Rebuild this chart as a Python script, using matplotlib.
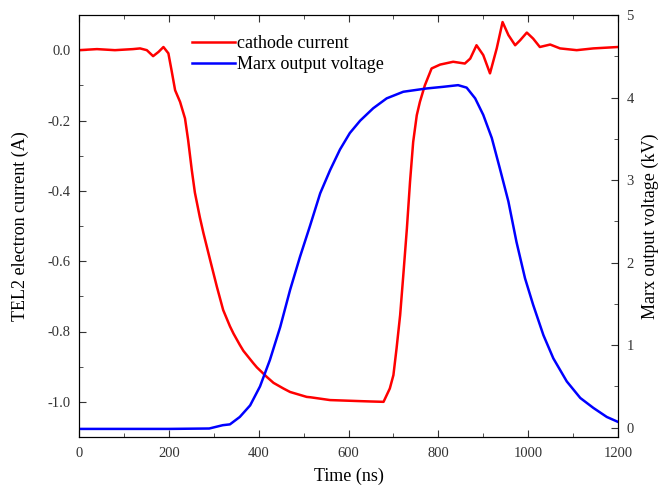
import matplotlib
matplotlib.use("Agg")
import matplotlib.pyplot as plt
from matplotlib.ticker import MultipleLocator

plt.rcParams['font.family'] = ['Liberation Serif', 'DejaVu Serif']

# cathode current trace (ns, A)
t_cur = [0, 40, 80, 120, 136, 151, 165, 177, 188, 199, 206, 214, 225, 236, 243, 251, 258,
         269, 277, 292, 307, 321, 336, 344, 358, 366, 388, 396, 418, 433, 455, 470, 507,
         515, 559, 604, 626, 650, 678, 692, 700, 707, 715, 722, 730, 737, 744, 752, 759,
         770, 785, 804, 833, 859, 871, 885, 900, 915, 930, 943, 956, 971, 982, 997, 1011,
         1026, 1049, 1071, 1108, 1145, 1200]
i_cur = [0.0, 0.003, 0.0, 0.003, 0.005, 0.0, -0.017, -0.005, 0.009, -0.009, -0.057,
         -0.114, -0.147, -0.194, -0.256, -0.34, -0.405, -0.475, -0.52, -0.597, -0.673,
         -0.739, -0.785, -0.806, -0.838, -0.855, -0.89, -0.902, -0.929, -0.946, -0.962,
         -0.972, -0.986, -0.987, -0.995, -0.997, -0.998, -0.999, -1.0, -0.962, -0.924,
         -0.848, -0.753, -0.64, -0.507, -0.374, -0.261, -0.185, -0.147, -0.1, -0.052,
         -0.041, -0.033, -0.038, -0.024, 0.014, -0.014, -0.066, 0.005, 0.08, 0.043, 0.014,
         0.028, 0.05, 0.033, 0.009, 0.016, 0.005, 0.0, 0.005, 0.009]

# Marx output voltage trace (ns, kV)
t_marx = [0, 100, 200, 290, 320, 336, 358, 381, 403, 425, 448, 470, 492, 514, 537, 559,
          581, 603, 626, 655, 685, 722, 774, 811, 844, 863, 882, 900, 919, 937, 956, 974,
          993, 1011, 1034, 1056, 1086, 1116, 1145, 1175, 1200]
v_marx = [-0.015, -0.015, -0.015, -0.01, 0.03, 0.04, 0.13, 0.27, 0.5, 0.82, 1.22, 1.67,
          2.07, 2.44, 2.84, 3.12, 3.37, 3.57, 3.72, 3.87, 3.99, 4.07, 4.11, 4.13, 4.15,
          4.12, 3.99, 3.79, 3.51, 3.14, 2.74, 2.25, 1.81, 1.49, 1.12, 0.84, 0.56, 0.36,
          0.24, 0.13, 0.07]

fig = plt.figure(figsize=(6.58, 4.87), dpi=100)
ax = fig.add_axes([79 / 658, 1 - 437 / 487, 539 / 658, 422 / 487])
ax2 = ax.twinx()

l1, = ax.plot(t_cur, i_cur, color='#ff0000', lw=1.8, label='cathode current')
l2, = ax2.plot(t_marx, v_marx, color='#0000ff', lw=1.8, label='Marx output voltage')

ax.set_xlim(0, 1200)
ax.set_ylim(-1.1, 0.1)
ax2.set_ylim(-0.113, 5)

ax.xaxis.set_major_locator(MultipleLocator(200))
ax.xaxis.set_minor_locator(MultipleLocator(100))
ax.yaxis.set_major_locator(MultipleLocator(0.2))
ax.yaxis.set_minor_locator(MultipleLocator(0.1))
ax2.yaxis.set_major_locator(MultipleLocator(1))
ax2.yaxis.set_minor_locator(MultipleLocator(0.5))
ax.yaxis.set_major_formatter(plt.FormatStrFormatter('%.1f'))

for a in (ax, ax2):
    a.tick_params(which='both', direction='in', labelsize=10.5, colors='#333333')
    a.tick_params(which='major', length=5)
    a.tick_params(which='minor', length=3)
ax.tick_params(which='both', top=True)
ax.tick_params(axis='x', which='major', pad=7)
ax.tick_params(axis='y', which='major', pad=6)
ax2.tick_params(axis='y', which='major', pad=6)

ax.set_xlabel('Time (ns)', fontsize=13, labelpad=6)
ax.set_ylabel('TEL2 electron current (A)', fontsize=13, labelpad=13)
ax2.set_ylabel('Marx output voltage (kV)', fontsize=13, labelpad=6)

ax.legend(handles=[l1, l2], loc='upper left', bbox_to_anchor=(0.18, 0.99), frameon=False,
          fontsize=13, handlelength=2.35, handletextpad=0.15, labelspacing=0.2)

fig.savefig('out.png', dpi=100)
